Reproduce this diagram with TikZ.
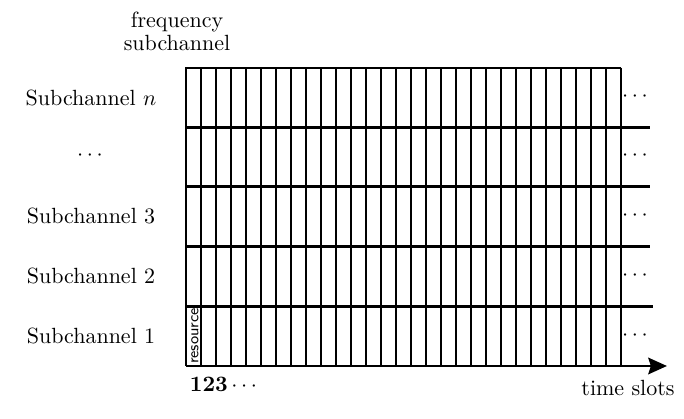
\documentclass[tikz,border=0pt]{standalone}
\usetikzlibrary{arrows.meta}
\begin{document}
\begin{tikzpicture}[x=0.4545pt,y=-0.4545pt,
  thin grid/.style={line width=0.5pt},
  thick sep/.style={line width=1.35pt},
  lbl/.style={inner sep=0pt, anchor=center}]
\useasboundingbox (0,0) rectangle (684,419);
% column lines
\foreach \i in {1,...,29}
  \draw[thin grid] ({186+15*\i},67.7) -- ({186+15*\i},366);
% top border
\draw[line width=0.95pt] (186,67.7) -- (621,67.7);
% row separators
\foreach \y/\e in {127.3/650,186.9/650,246.5/650,306.1/653}
  \draw[thick sep] (186,\y) -- (\e,\y);
% axes
\coordinate (O) at (186,366);
\coordinate (T) at (186,67);
\coordinate (E) at (667,366);
\draw[thick sep] (O) -- (T);
\draw[thick sep,-{Stealth[length=8.5pt,width=7.5pt,inset=1.2pt]}] (O) -- (E);
% labels
\node[lbl,align=center] (freq) at (177,31) {frequency\\[-1.6pt]subchannel};
\node[lbl] (sn) at (91,98) {Subchannel $n$};
\node[lbl] (sd) at (90,156) {$\cdots$};
\node[lbl] (s3) at (91,216) {Subchannel 3};
\node[lbl] (s2) at (91,276) {Subchannel 2};
\node[lbl] (s1) at (91,336) {Subchannel 1};
\foreach \y/\n in {97/d1,156/d2,216/d3,276/d4,336/d5}
  \node[lbl] (\n) at (635,\y) {$\cdots$};
\node[lbl,rotate=90] (res) at (195,336) {\scriptsize\sffamily resource};
\node[lbl] (nums) at (223.5,384) {\textbf{123}\,$\cdots$};
\node[lbl] (ts) at (628,388) {time slots};
\end{tikzpicture}
\end{document}
